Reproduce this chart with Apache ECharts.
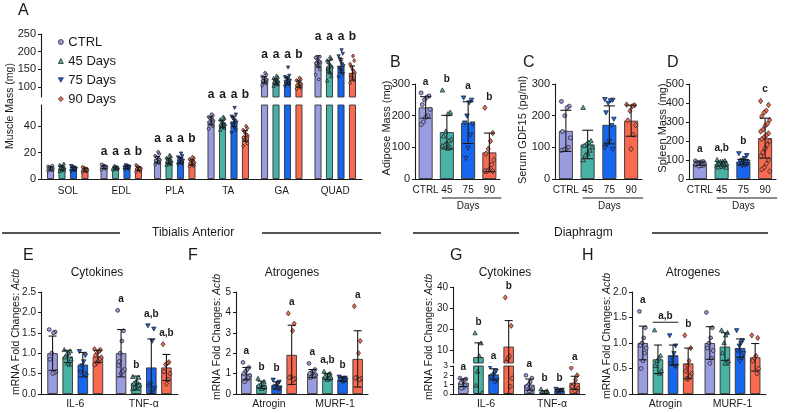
<!DOCTYPE html>
<html><head><meta charset="utf-8">
<script src="https://cdn.jsdelivr.net/npm/echarts@6/dist/echarts.min.js"></script>
<style>html,body{margin:0;padding:0;background:#fff}#c{width:790px;height:413px}</style>
</head><body><div id="c"></div><script>
// ================= DATA =================
const groups = ['CTRL', '45 Days', '75 Days', '90 Days'];

// Panel A – Muscle Mass (mg)
const aCategories = ['SOL', 'EDL', 'PLA', 'TA', 'GA', 'QUAD'];
const aMeanCtrl = [8.0, 9.0, 14.5, 44.0, 120.6, 172.5];
const aMean45   = [8.3, 8.3, 13.5, 41.6, 115.0, 158.0];
const aMean75   = [7.8, 9.0, 14.0, 43.5, 118.0, 160.0];
const aMean90   = [7.0, 7.8, 12.5, 32.6, 108.5, 139.6];
const aSdCtrl = [1.2, 1.0, 2.5, 3.0, 9, 16];
const aSd45   = [1.5, 0.8, 2.2, 2.8, 8, 18];
const aSd75   = [1.2, 1.0, 2.3, 4.0, 10, 20];
const aSd90   = [1.1, 1.2, 2.0, 4.0, 9, 20];
const aPtsCtrl = [
  [6.2,6.8,7.2,7.5,7.8,8.0,8.3,8.6,9.0,9.5,10.0,7.0],
  [7.2,7.8,8.2,8.6,9.0,9.3,9.6,10.0,10.5,11.0,8.8,9.4],
  [11.0,12.0,12.8,13.5,14.0,14.5,15.0,15.8,16.5,17.5,19.0,20.5],
  [38,40,41,42,43,44,45,45.5,46,47,48,49],
  [105,110,113,116,118,120,122,124,127,130,135,140],
  [135,150,158,163,167,170,173,176,180,183,186,122]];
const aPts45 = [
  [5.8,6.5,7.0,7.5,8.0,8.3,8.8,9.3,9.8,10.5,11.5,7.8],
  [7.0,7.4,7.8,8.1,8.3,8.6,8.9,9.3,9.8,8.0,8.5,7.6],
  [10.5,11.2,12.0,12.6,13.2,13.6,14.0,14.6,15.2,16.0,17.0,18.2],
  [37,38.5,39.5,40.5,41,41.5,42,43,44,45,46,47],
  [103,107,110,112,114,116,118,120,122,125,128,132],
  [118,130,140,148,153,157,161,165,170,175,180,185]];
const aPts75 = [
  [6.0,6.6,7.0,7.4,7.8,8.1,8.5,9.0,9.5,10.0,7.2,8.3],
  [7.3,7.8,8.2,8.6,9.0,9.3,9.7,10.1,10.6,8.8,9.5,8.4],
  [11.0,11.8,12.5,13.0,13.6,14.0,14.5,15.0,15.8,16.6,17.5,19.5],
  [35,37,39,41,42,43,44,45,46,47.5,49,54],
  [102,107,110,113,116,118,120,123,126,129,133,156],
  [128,138,145,150,155,160,165,172,180,188,195,205]];
const aPts90 = [
  [5.2,5.8,6.2,6.6,7.0,7.3,7.6,8.0,8.4,9.0,6.8,7.5],
  [5.5,6.2,6.8,7.2,7.6,8.0,8.4,8.9,9.5,10.5,7.4,8.2],
  [9.5,10.2,10.8,11.4,12.0,12.5,13.0,13.5,14.2,15.0,15.8,16.5],
  [25,27,29,30,31.5,32.5,33.5,34.5,36,37,38.5,40],
  [95,98,101,103,105,108,110,113,116,119,122,126],
  [112,120,125,130,135,140,145,150,158,165,175,188]];
const aLetters = [['','','',''],['a','a','a','b'],['a','a','a','b'],['a','a','a','b'],['a','a','a','b'],['a','a','a','b']];
const aTicksUpper = [100, 150, 200, 250];
const aTicksLower = [0, 20, 40];

// Panel B – Adipose Mass (mg)
const bCategories = ['CTRL', '45', '75', '90'];
const bMeans = [226, 148, 178, 84];
const bSds = [34, 53, 66, 61];
const bPts = [
  [272,262,258,250,235,220,200,195,180,172],
  [280,210,205,150,135,125,120,112,108,104,100,96],
  [257,250,242,200,178,175,140,98,66],
  [225,145,120,95,80,60,45,30,25,25,25]];
const bLetters = ['a', 'b', 'a', 'b'];

// Panel C – Serum GDF15 (pg/ml)
const cCategories = ['CTRL', '45', '75', '90'];
const cMeans = [152, 109, 171, 184];
const cSds = [65, 45, 60, 49];
const cPts = [
  [245,230,225,200,150,130,100,95,92,90],
  [225,120,115,110,105,100,90,80,75,60],
  [252,250,248,240,210,190,170,120,110,100,95],
  [235,233,230,215,185,170,140,95]];
const cLetters = ['', '', '', ''];

// Panel D – Spleen Mass (mg)
const dCategories = ['CTRL', '45', '75', '90'];
const dMeans = [81, 79, 89, 215];
const dSds = [9, 11, 14, 105];
const dPts = [
  [95,92,90,88,85,82,80,78,76,74,72,70,68],
  [100,95,92,90,85,82,80,78,75,72,70,68,65,62,60],
  [135,125,110,100,95,90,88,85,82,80,78,75,72],
  [410,390,360,350,330,310,290,280,260,250,240,230,220,210,200,180,160,140,120,100,80,60,50,40]];
const dLetters = ['a', 'a,b', 'b', 'c'];

// Panel E – TA cytokines
const eCategories = ['IL-6', 'TNF-α'];
const eMeanCtrl = [1.0, 1.0], eMean45 = [0.92, 0.27], eMean75 = [0.72, 0.65], eMean90 = [0.92, 0.65];
const eSdCtrl = [0.42, 0.58], eSd45 = [0.15, 0.17], eSd75 = [0.3, 0.7], eSd90 = [0.15, 0.32];
const ePtsCtrl = [[1.58,1.52,1.5,1.0,0.85,0.55,0.52,0.5], [2.05,1.55,1.3,1.0,0.7,0.6,0.55,0.5,0.8]];
const ePts45 = [[1.08,1.05,1.0,0.98,0.9,0.85,0.72,0.75], [0.42,0.4,0.3,0.28,0.25,0.22,0.2,0.18,0.15,0.12]];
const ePts75 = [[1.05,0.95,0.8,0.7,0.55,0.45,0.5], [1.68,1.6,1.3,0.25,0.2,0.15,0.1,0.05]];
const ePts90 = [[1.1,1.08,1.05,1.0,0.95,0.9,0.85,0.8,0.75,0.72], [1.22,0.78,0.75,0.72,0.55,0.5,0.35,0.25]];
const eLetters = [['','','',''], ['a','b','a,b','a,b']];

// Panel F – TA atrogenes
const fCategories = ['Atrogin', 'MURF-1'];
const fMeanCtrl = [1.0, 1.0], fMean45 = [0.45, 0.85], fMean75 = [0.42, 0.72], fMean90 = [1.92, 1.72];
const fSdCtrl = [0.3, 0.2], fSd45 = [0.18, 0.15], fSd75 = [0.18, 0.1], fSd90 = [1.45, 1.38];
const fPtsCtrl = [[1.55,1.3,1.2,1.1,1.0,0.9,0.8,0.7,0.6], [1.5,1.2,1.1,1.05,1.0,0.95,0.9,0.85,0.8]];
const fPts45 = [[0.75,0.6,0.5,0.45,0.4,0.35,0.3,0.25], [1.1,1.0,0.95,0.9,0.85,0.8,0.75,0.7]];
const fPts75 = [[0.7,0.6,0.5,0.4,0.35,0.3,0.25], [0.85,0.8,0.78,0.75,0.72,0.7,0.65,0.6]];
const fPts90 = [[3.95,3.45,3.1,0.85,0.8,0.75,0.7], [4.3,2.6,2.0,0.8,0.78,0.75,0.7]];
const fLetters = [['a','b','b','a'], ['a','a,b','b','a']];

// Panel G – Diaphragm cytokines
const gCategories = ['IL-6', 'TNF-α'];
const gMeanCtrl = [1.2, 1.0], gMean45 = [6.6, 0.2], gMean75 = [2.1, 0.4], gMean90 = [11.6, 1.2];
const gSdCtrl = [0.4, 0.6], gSd45 = [6.8, 0.15], gSd75 = [0.6, 0.1], gSd90 = [12.4, 0.7];
const gPtsCtrl = [[1.7,1.6,1.5,1.3,1.2,1.0,0.9,0.7,0.6], [2.0,1.7,1.3,1.0,0.8,0.6,0.4,0.3]];
const gPts45 = [[18,13.2,7.1,2.4,0.9,0.1], [0.5,0.3,0.2,0.15,0.1,0.05]];
const gPts75 = [[2.9,2.5,2.2,2.0,1.8,1.5,1.3], [0.55,0.45,0.4,0.35,0.3]];
const gPts90 = [[35,21.5,7,6,4.2,1.7,0.8], [2.8,2.0,1.5,1.0,0.8,0.6,0.4,0.3]];
const gLetters = [['a','b','a','b'], ['a','b','b','a']];
const gTicksUpper = [10, 20, 30, 40];
const gTicksLower = [0, 1, 2, 3];

// Panel H – Diaphragm atrogenes
const hCategories = ['Atrogin', 'MURF-1'];
const hMeanCtrl = [1.0, 1.0], hMean45 = [0.68, 0.93], hMean75 = [0.76, 0.9], hMean90 = [0.6, 0.72];
const hSdCtrl = [0.33, 0.32], hSd45 = [0.28, 0.27], hSd75 = [0.2, 0.18], hSd90 = [0.3, 0.27];
const hPtsCtrl = [[1.62,1.3,1.1,1.0,0.95,0.9,0.8,0.65,0.5], [1.6,1.3,1.1,1.0,0.9,0.85,0.7,0.6]];
const hPts45 = [[1.25,0.75,0.7,0.65,0.55,0.45,0.4], [1.25,1.2,1.15,1.0,0.8,0.65,0.6,0.6]];
const hPts75 = [[1.15,0.95,0.8,0.7,0.6,0.55,0.55], [1.25,1.05,1.0,0.95,0.85,0.8,0.7,0.65]];
const hPts90 = [[1.15,0.9,0.65,0.55,0.45,0.4,0.35,0.3,0.3], [1.15,1.1,0.75,0.7,0.65,0.5,0.4]];
const hLetters = [['a','','','b'], ['','','','']];
const hBrackets = [{cat: 0, from: 1, to: 2, text: 'a,b'}];

// ================= STYLE =================
const FONT = '"Liberation Sans", Arial, Helvetica, sans-serif';
const COLORS = ['#9A9CE0', '#48B3A5', '#1766F0', '#FA6A50'];
const INK = '#1a1a1a';
const ICONS = ['circle', 'triangle', 'path://M0,0L10,0L5,9Z', 'diamond'];

const option = {
  animation: false, backgroundColor: '#fff', textStyle: {fontFamily: FONT},
  grid: [], xAxis: [], yAxis: [], series: [], graphic: [],
  legend: {
    orient: 'vertical', left: 53, top: 30, itemWidth: 5, itemHeight: 5, itemGap: 5,
    selectedMode: false,
    textStyle: {fontSize: 13, color: INK, fontFamily: FONT, lineHeight: 14},
    data: groups.map((g, k) => ({name: g, icon: ICONS[k], itemStyle: {color: COLORS[k], borderColor: INK, borderWidth: 0.7}}))
  }
};

function jitter(i) { return (((i * 7) % 9) - 4) / 4; }
function marker(k, x, y, r, color) {
  const style = {fill: color, stroke: INK, lineWidth: 0.7};
  if (k === 0) return {type: 'circle', shape: {cx: x, cy: y, r: r}, style};
  if (k === 1) return {type: 'polygon', shape: {points: [[x, y - r * 1.25], [x + r * 1.15, y + r * 0.85], [x - r * 1.15, y + r * 0.85]]}, style};
  if (k === 2) return {type: 'polygon', shape: {points: [[x, y + r * 1.25], [x + r * 1.15, y - r * 0.85], [x - r * 1.15, y - r * 0.85]]}, style};
  return {type: 'polygon', shape: {points: [[x, y - r * 1.35], [x + r * 1.05, y], [x, y + r * 1.35], [x - r * 1.05, y]]}, style};
}
function diag(arr, empty) { return arr.map((v, k) => arr.map((_, c) => c === k ? v : empty)); }
function diagLetters(arr) { return arr.map((_, c) => arr.map((v, k) => c === k ? v : '')); }

function addAxes(p, seg, isBottom) {
  const gi = option.grid.length;
  option.grid.push({left: p.left, top: seg.top, width: p.width, height: seg.height});
  option.xAxis.push({
    gridIndex: gi, type: 'category', data: p.categories, show: isBottom,
    axisLine: {lineStyle: {color: INK, width: 1.1}},
    axisTick: {alignWithLabel: true, length: 3, lineStyle: {color: INK, width: 1}},
    axisLabel: {color: INK, fontSize: p.catFont, margin: p.catMargin, fontFamily: FONT, interval: 0, hideOverlap: false}
  });
  const y = {
    gridIndex: gi, type: 'value', min: seg.min, max: seg.max,
    splitLine: {show: false},
    axisLine: {show: true, lineStyle: {color: INK, width: 1.1}},
    axisTick: {show: true, length: 3, lineStyle: {color: INK, width: 1}},
    axisLabel: {color: INK, fontSize: seg.tickFont || p.tickFont, lineHeight: seg.tickFont || p.tickFont, margin: 5, fontFamily: FONT,
      showMinLabel: true, showMaxLabel: true, hideOverlap: false,
      formatter: v => p.dec ? Number(v).toFixed(p.dec) : String(v)}
  };
  if (seg.ticks) { y.axisTick.customValues = seg.ticks; y.axisLabel.customValues = seg.ticks; }
  else { y.interval = seg.interval; }
  option.yAxis.push(y);
  return gi;
}

function addPanel(p) {
  const nSeg = p.segments.length;
  const clip = nSeg > 1;
  const off = k => (k - 1.5) * p.pitch;
  const letterItems = [];
  p.categories.forEach((_, c) => {
    const tops = [0, 1, 2, 3].map(k => {
      const m = p.means[k][c];
      if (m == null) return null;
      return Math.max(m + p.sds[k][c], ...(p.points[k][c].length ? p.points[k][c] : [m]));
    });
    const gTop = Math.max(...tops.filter(t => t != null));
    [0, 1, 2, 3].forEach(k => {
      const txt = p.letters[c][k];
      if (!txt) return;
      letterItems.push({c, k, top: p.alignLetters ? gTop : tops[k], txt});
    });
  });
  p.segments.forEach((seg, si) => {
    const isBottom = si === nSeg - 1;
    const gi = addAxes(p, seg, isBottom);
    for (let k = 0; k < 4; k++) {
      option.series.push({
        type: 'bar', xAxisIndex: gi, yAxisIndex: gi, data: p.means[k], barWidth: p.barWidth, barGap: p.barGap,
        silent: true, clip: true, z: 2,
        itemStyle: {color: COLORS[k], borderColor: '#333', borderWidth: 0.9}
      });
      const dots = [];
      p.points[k].forEach((arr, c) => arr.forEach((v, i) => dots.push([c, v, i])));
      option.series.push({
        type: 'custom', name: groups[k], xAxisIndex: gi, yAxisIndex: gi, data: dots, clip, silent: true, z: 3,
        encode: {x: 0, y: 1},
        renderItem: (params, api) => {
          const pt = api.coord([api.value(0), api.value(1)]);
          return marker(k, pt[0] + off(k) + jitter(api.value(2)) * p.spread, pt[1], p.dotR, COLORS[k]);
        }
      });
      const err = [];
      p.means[k].forEach((m, c) => { if (m != null) err.push([c, m, p.sds[k][c]]); });
      option.series.push({
        type: 'custom', xAxisIndex: gi, yAxisIndex: gi, data: err, clip, silent: true, z: 4,
        encode: {x: 0, y: 1},
        renderItem: (params, api) => {
          const c = api.value(0), m = api.value(1), s = api.value(2);
          const x = api.coord([c, m])[0] + off(k);
          const yT = api.coord([c, m + s])[1], yB = api.coord([c, Math.max(0, m - s)])[1];
          const h = p.cap, st = {stroke: INK, lineWidth: 1.1};
          return {type: 'group', children: [
            {type: 'line', shape: {x1: x, y1: yT, x2: x, y2: yB}, style: st},
            {type: 'line', shape: {x1: x - h, y1: yT, x2: x + h, y2: yT}, style: st},
            {type: 'line', shape: {x1: x - h, y1: yB, x2: x + h, y2: yB}, style: st}]};
        }
      });
    }
    const items = letterItems.filter(it => {
      const bottomMax = p.segments[nSeg - 1].max;
      return isBottom ? it.top <= bottomMax : it.top > bottomMax;
    });
    if (items.length) {
      option.series.push({
        type: 'custom', xAxisIndex: gi, yAxisIndex: gi, clip: false, silent: true, z: 5,
        data: items.map((it, idx) => [it.c, it.top, it.k, idx]), encode: {x: 0, y: 1},
        renderItem: (params, api) => {
          const it = items[api.value(3)];
          const pt = api.coord([it.c, it.top]);
          return {type: 'text', x: pt[0] + off(it.k), y: pt[1] - p.letterGap,
            style: {text: it.txt, fill: INK, fontSize: p.letterFont, fontWeight: 'bold', fontFamily: FONT, align: 'center', verticalAlign: 'bottom'}};
        }
      });
    }
    if (isBottom && p.brackets) {
      option.series.push({
        type: 'custom', xAxisIndex: gi, yAxisIndex: gi, clip: false, silent: true, z: 5,
        data: p.brackets.map((b, idx) => [b.cat, 0, idx]), encode: {x: 0, y: 1},
        renderItem: (params, api) => {
          const b = p.brackets[api.value(2)];
          const tops = [];
          for (let k = b.from; k <= b.to; k++) tops.push(Math.max(p.means[k][b.cat] + p.sds[k][b.cat], ...p.points[k][b.cat]));
          const pt = api.coord([b.cat, Math.max(...tops)]);
          const x1 = pt[0] + off(b.from) - p.barWidth / 2, x2 = pt[0] + off(b.to) + p.barWidth / 2;
          const y = pt[1] - 8;
          return {type: 'group', children: [
            {type: 'line', shape: {x1, y1: y, x2, y2: y}, style: {stroke: INK, lineWidth: 1}},
            {type: 'text', x: (x1 + x2) / 2, y: y - 1.5, style: {text: b.text, fill: INK, fontSize: p.letterFont, fontWeight: 'bold', fontFamily: FONT, align: 'center', verticalAlign: 'bottom'}}]};
        }
      });
    }
    if (isBottom && p.days) {
      option.series.push({
        type: 'custom', xAxisIndex: gi, yAxisIndex: gi, clip: false, silent: true, z: 5,
        data: [[1, 0, 3]], encode: {x: 0, y: 1},
        renderItem: (params, api) => {
          const a = api.coord([api.value(0), 0]), b = api.coord([api.value(2), 0]);
          const y = a[1] + 19;
          return {type: 'group', children: [
            {type: 'line', shape: {x1: a[0] - 5, y1: y, x2: b[0] + 12, y2: y}, style: {stroke: INK, lineWidth: 1}},
            {type: 'text', x: (a[0] + b[0]) / 2, y: y + 8, style: {text: 'Days', fill: INK, fontSize: 10, fontFamily: FONT, align: 'center', verticalAlign: 'middle'}}]};
        }
      });
    }
  });
}

const base4 = {barWidth: 14, barGap: '-100%', pitch: 0, cap: 5.5, spread: 4.5, dotR: 2.0, alignLetters: false,
  letterGap: 6, letterFont: 10, tickFont: 11, catFont: 10, catMargin: 6, dec: 0, days: true};
const baseMrna = {barWidth: 10.5, barGap: '44%', pitch: 10.5 * 1.44, cap: 4, spread: 3.4, dotR: 1.9, alignLetters: false,
  letterGap: 6, letterFont: 10, tickFont: 10, catFont: 10.5, catMargin: 5};

addPanel({left: 41, width: 321, categories: aCategories,
  means: [aMeanCtrl, aMean45, aMean75, aMean90], sds: [aSdCtrl, aSd45, aSd75, aSd90],
  points: [aPtsCtrl, aPts45, aPts75, aPts90], letters: aLetters,
  segments: [{top: 34, height: 63, min: 72, max: 250, ticks: aTicksUpper}, {top: 105, height: 74, min: 0, max: 56, ticks: aTicksLower}],
  barWidth: 7, barGap: '64%', pitch: 7 * 1.64, cap: 2.5, spread: 2.4, dotR: 1.45, alignLetters: true,
  letterGap: 7, letterFont: 12, tickFont: 11, catFont: 10, catMargin: 7, dec: 0});

addPanel(Object.assign({}, base4, {left: 415, width: 85, categories: bCategories,
  means: diag(bMeans, null), sds: diag(bSds, 0), points: diag(bPts, []), letters: diagLetters(bLetters),
  segments: [{top: 84, height: 95, min: 0, max: 300, interval: 100}]}));
addPanel(Object.assign({}, base4, {left: 555, width: 87, categories: cCategories,
  means: diag(cMeans, null), sds: diag(cSds, 0), points: diag(cPts, []), letters: diagLetters(cLetters),
  segments: [{top: 84, height: 95, min: 0, max: 300, interval: 100}]}));
addPanel(Object.assign({}, base4, {left: 689, width: 87, categories: dCategories,
  means: diag(dMeans, null), sds: diag(dSds, 0), points: diag(dPts, []), letters: diagLetters(dLetters),
  segments: [{top: 84, height: 95, min: 0, max: 500, interval: 100}], letterGap: 7}));

addPanel(Object.assign({}, baseMrna, {left: 41, width: 137, categories: eCategories,
  means: [eMeanCtrl, eMean45, eMean75, eMean90], sds: [eSdCtrl, eSd45, eSd75, eSd90],
  points: [ePtsCtrl, ePts45, ePts75, ePts90], letters: eLetters, dec: 1,
  segments: [{top: 292, height: 102, min: 0, max: 2.5, interval: 0.5}]}));
addPanel(Object.assign({}, baseMrna, {left: 236, width: 132, categories: fCategories,
  means: [fMeanCtrl, fMean45, fMean75, fMean90], sds: [fSdCtrl, fSd45, fSd75, fSd90],
  points: [fPtsCtrl, fPts45, fPts75, fPts90], letters: fLetters, dec: 0,
  segments: [{top: 292, height: 102, min: 0, max: 5, interval: 1}]}));
addPanel(Object.assign({}, baseMrna, {left: 453, width: 132, categories: gCategories,
  means: [gMeanCtrl, gMean45, gMean75, gMean90], sds: [gSdCtrl, gSd45, gSd75, gSd90],
  points: [gPtsCtrl, gPts45, gPts75, gPts90], letters: gLetters, dec: 0,
  segments: [{top: 287, height: 76, min: 3.8, max: 40, ticks: gTicksUpper},
             {top: 366, height: 28, min: 0, max: 3, ticks: gTicksLower, tickFont: 8.5}]}));
addPanel(Object.assign({}, baseMrna, {left: 632, width: 134, categories: hCategories,
  means: [hMeanCtrl, hMean45, hMean75, hMean90], sds: [hSdCtrl, hSd45, hSd75, hSd90],
  points: [hPtsCtrl, hPts45, hPts75, hPts90], letters: hLetters, brackets: hBrackets, dec: 1,
  segments: [{top: 292, height: 102, min: 0, max: 2, interval: 0.5}]}));

// ================= DECORATION TEXT =================
function txt(x, y, text, size, extra) {
  return Object.assign({type: 'text', x, y, silent: true,
    style: {text, fill: INK, fontSize: size, fontFamily: FONT, align: 'left', verticalAlign: 'middle'}}, extra || {});
}
function vtxt(x, y, text, size) {
  return {type: 'text', x, y, rotation: Math.PI / 2, silent: true,
    style: {text, fill: INK, fontSize: size, fontFamily: FONT, align: 'center', verticalAlign: 'middle',
      rich: {i: {fontStyle: 'italic', fontSize: size, fontFamily: FONT, fill: INK}}}};
}
function hline(x1, x2, y) { return {type: 'line', silent: true, shape: {x1, y1: y, x2, y2: y}, style: {stroke: INK, lineWidth: 1.3}}; }
const g = option.graphic;
[['A', 18, 10.5], ['B', 390, 62.5], ['C', 523, 62.5], ['D', 667, 62.5], ['E', 23, 255.5], ['F', 188, 255.5], ['G', 450, 255.5], ['H', 582, 255.5]]
  .forEach(([t, x, y]) => g.push(txt(x, y, t, 16)));
g.push(vtxt(10, 106, 'Muscle Mass (mg)', 10.5));
g.push(vtxt(387, 128, 'Adipose Mass (mg)', 11));
g.push(vtxt(523, 130, 'Serum GDF15 (pg/ml)', 11));
g.push(vtxt(663, 128, 'Spleen Mass (mg)', 11));
g.push(vtxt(16, 332, 'mRNA Fold Changes: {i|Actb}', 10.5));
g.push(vtxt(217, 337, 'mRNA Fold Changes: {i|Actb}', 10.5));
g.push(vtxt(429, 337, 'mRNA Fold Changes: {i|Actb}', 10.5));
g.push(vtxt(607, 336, 'mRNA Fold Changes: {i|Actb}', 10.5));
[['Cytokines', 97], ['Atrogenes', 292], ['Cytokines', 505], ['Atrogenes', 693]].forEach(([t, x]) => {
  const e = txt(x, 273, t, 12); e.style.align = 'center'; g.push(e);
});
g.push(hline(2, 120, 233), hline(262, 381, 233), hline(413, 519, 233), hline(652, 768, 233));
g.push(txt(152, 233, 'Tibialis Anterior', 12), txt(554, 233, 'Diaphragm', 12));

const chart = echarts.init(document.getElementById('c'), null, {renderer: 'canvas'});
chart.setOption(option);
</script></body></html>
